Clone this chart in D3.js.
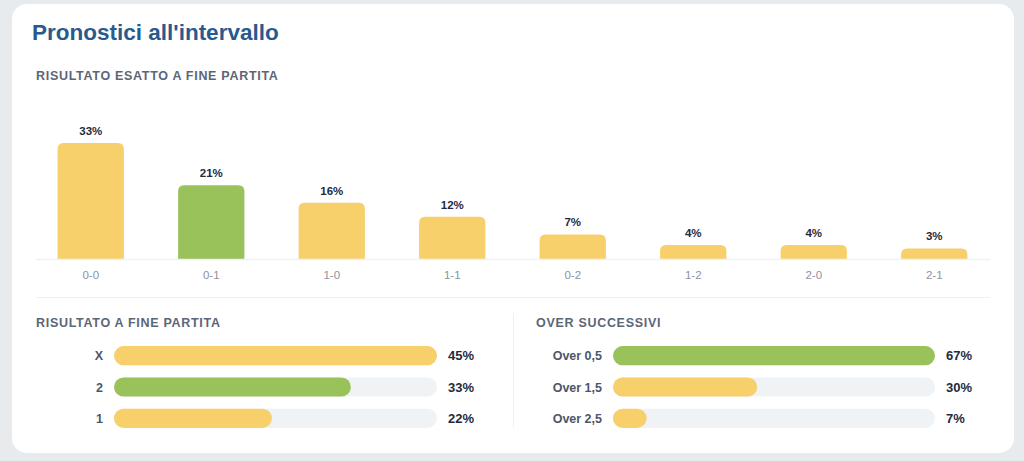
<!DOCTYPE html>
<html>
<head>
<meta charset="utf-8">
<script src="https://cdn.jsdelivr.net/npm/d3@7"></script>
<style>
  html, body { margin: 0; padding: 0; background: #e7ebee; }
  body { width: 1024px; height: 461px; overflow: hidden; }
  svg { display: block; font-family: "Liberation Sans", Arial, sans-serif; }
</style>
</head>
<body>
<div id="chart"></div>
<script>
// Data
const scoreLabels = ["0-0", "0-1", "1-0", "1-1", "0-2", "1-2", "2-0", "2-1"];
const scoreValues = [33, 21, 16, 12, 7, 4, 4, 3];
const scoreHighlight = "0-1";

const resultLabels = ["X", "2", "1"];
const resultValues = [45, 33, 22];
const resultHighlight = "2";

const overLabels = ["Over 0,5", "Over 1,5", "Over 2,5"];
const overValues = [67, 30, 7];
const overHighlight = "Over 0,5";

const width = 1024;
const height = 461;
const yellow = "#f7cf6b";
const green = "#9ac25b";
const track = "#f0f3f6";

const svg = d3.select("#chart")
    .append("svg")
    .attr("width", width)
    .attr("height", height);

// card
svg.append("rect")
    .attr("x", 12).attr("y", 4)
    .attr("width", 1002).attr("height", 449)
    .attr("rx", 15)
    .attr("fill", "#fff");

svg.append("text")
    .attr("x", 32).attr("y", 40)
    .attr("fill", "#285a8e")
    .attr("font-size", 22.5)
    .attr("font-weight", "bold")
    .text("Pronostici all'intervallo");

function sectionTitle(x, y, txt) {
    svg.append("text")
        .attr("x", x).attr("y", y)
        .attr("fill", "#5b6678")
        .attr("font-size", 12.5)
        .attr("font-weight", "bold")
        .attr("letter-spacing", 0.7)
        .text(txt);
}

sectionTitle(36, 80, "RISULTATO ESATTO A FINE PARTITA");

// column chart
const baseY = 259;
const xScale = d3.scaleBand()
    .domain(scoreLabels)
    .range([30.5, 994.5])
    .paddingInner(0.45)
    .paddingOuter(0.225);

const yScale = d3.scaleLinear()
    .domain([0, 33])
    .range([baseY, 143]);

// rounded top only
function topRounded(x, y, w, h, r) {
    r = Math.min(r, h, w / 2);
    return `M${x},${y + h}V${y + r}Q${x},${y} ${x + r},${y}H${x + w - r}Q${x + w},${y} ${x + w},${y + r}V${y + h}Z`;
}

const cols = svg.append("g");
cols.selectAll("path")
    .data(scoreLabels)
    .join("path")
    .attr("d", (d, i) => topRounded(xScale(d), yScale(scoreValues[i]), xScale.bandwidth(), baseY - yScale(scoreValues[i]), 6))
    .attr("fill", d => d === scoreHighlight ? green : yellow);

cols.selectAll("text.val")
    .data(scoreLabels)
    .join("text")
    .attr("class", "val")
    .attr("x", d => xScale(d) + xScale.bandwidth() / 2)
    .attr("y", (d, i) => yScale(scoreValues[i]) - 8)
    .attr("text-anchor", "middle")
    .attr("fill", "#1f2b3d")
    .attr("font-size", 11.5)
    .attr("font-weight", "bold")
    .text((d, i) => scoreValues[i] + "%");

// x axis
const xAxis = d3.axisBottom(xScale).tickSize(0).tickPadding(12);
const gx = svg.append("g")
    .attr("transform", `translate(0,${baseY})`)
    .call(xAxis);
gx.select(".domain").remove();
gx.selectAll("text")
    .attr("fill", "#8a93a3")
    .attr("font-size", 11.5)
    .attr("font-family", "'Liberation Sans', Arial, sans-serif");

svg.append("line")
    .attr("x1", 36).attr("x2", 990)
    .attr("y1", baseY + 0.5).attr("y2", baseY + 0.5)
    .attr("stroke", "#eef1f5").attr("stroke-width", 1.5);

svg.append("line")
    .attr("x1", 36).attr("x2", 990)
    .attr("y1", 297.5).attr("y2", 297.5)
    .attr("stroke", "#eef1f4");

svg.append("line")
    .attr("x1", 513.5).attr("x2", 513.5)
    .attr("y1", 313).attr("y2", 428)
    .attr("stroke", "#eef1f4");

// horizontal bar panels
function hbars(labels, values, highlight, x0, x1, labelX, titleX, title) {
    sectionTitle(titleX, 327, title);
    const xs = d3.scaleLinear().domain([0, d3.max(values)]).range([x0, x1]);
    const ys = d3.scaleBand().domain(labels).range([340, 434])
        .paddingInner(0.39).paddingOuter(0.195);
    const g = svg.append("g");
    const h = ys.bandwidth();

    g.selectAll("rect.track")
        .data(labels)
        .join("rect")
        .attr("class", "track")
        .attr("x", x0).attr("y", d => ys(d))
        .attr("width", x1 - x0).attr("height", h)
        .attr("rx", h / 2)
        .attr("fill", track);

    g.selectAll("rect.fill")
        .data(labels)
        .join("rect")
        .attr("class", "fill")
        .attr("x", x0).attr("y", d => ys(d))
        .attr("width", (d, i) => Math.max(xs(values[i]) - x0, h))
        .attr("height", h)
        .attr("rx", h / 2)
        .attr("fill", d => d === highlight ? green : yellow);

    g.selectAll("text.lab")
        .data(labels)
        .join("text")
        .attr("class", "lab")
        .attr("x", labelX)
        .attr("y", d => ys(d) + h / 2 + 4.5)
        .attr("text-anchor", "end")
        .attr("fill", "#4c5769")
        .attr("font-size", 12.5)
        .attr("font-weight", "bold")
        .text(d => d);

    g.selectAll("text.pct")
        .data(labels)
        .join("text")
        .attr("class", "pct")
        .attr("x", x1 + 11)
        .attr("y", d => ys(d) + h / 2 + 4.5)
        .attr("fill", "#1f2b3d")
        .attr("font-size", 13)
        .attr("font-weight", "bold")
        .text((d, i) => values[i] + "%");
}

hbars(resultLabels, resultValues, resultHighlight, 114, 437, 103, 36, "RISULTATO A FINE PARTITA");
hbars(overLabels, overValues, overHighlight, 613, 935, 602, 536, "OVER SUCCESSIVI");
</script>
</body>
</html>
